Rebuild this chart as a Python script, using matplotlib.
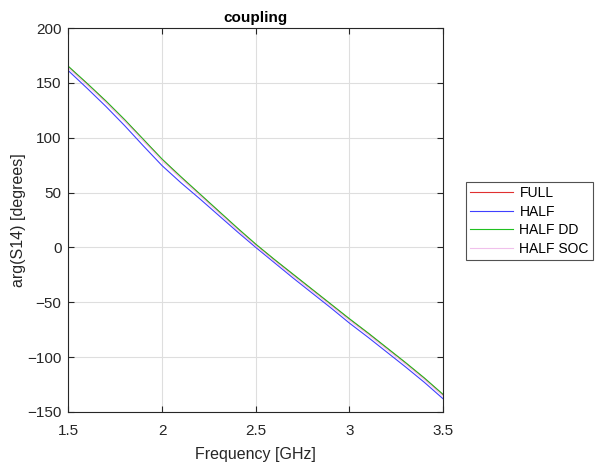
import matplotlib.pyplot as plt

plt.rcParams['font.family'] = ['Liberation Sans', 'DejaVu Sans']

freq = [1.5, 1.6, 1.7, 1.8, 1.9, 2.0, 2.1, 2.2, 2.3, 2.4, 2.5,
        2.6, 2.7, 2.8, 2.9, 3.0, 3.1, 3.2, 3.3, 3.4, 3.5]
full = [164.5, 149, 133, 116, 98, 80, 64, 48.5, 33, 17.5, 2.5,
        -11.5, -25, -38.5, -52, -65.5, -78.5, -92, -105.5, -119.5, -134.5]
half = [161, 145, 128.5, 111, 92.5, 74.5, 59, 44.5, 29.5, 14.5, 0,
        -14, -28, -41.5, -55, -69, -82, -95.5, -109, -123, -138]
half_dd = [165, 149.5, 133.5, 116.5, 98.5, 80.5, 64.5, 49, 33.5, 18, 3,
           -11, -24.5, -38, -51.5, -65, -78, -91.5, -105, -119, -134]
half_soc = [163.5, 148, 132, 115, 97, 79, 63, 47.5, 32, 16.5, 1.5,
            -12.5, -26, -39.5, -53, -66.5, -79.5, -93, -106.5, -120.5, -135.5]

fig = plt.figure(figsize=(5.98, 4.67), dpi=100)
ax = fig.add_axes([0.1145, 0.1178, 0.6265, 0.8222])

ax.plot(freq, full, color='#e03030', lw=0.8, label='FULL')
ax.plot(freq, half, color='#4040ff', lw=0.8, label='HALF')
ax.plot(freq, half_dd, color='#20c020', lw=0.8, label='HALF DD')
ax.plot(freq, half_soc, color='#f0c0ec', lw=0.8, label='HALF SOC')

ax.set_xlim(1.5, 3.5)
ax.set_ylim(-150, 200)
ax.set_xticks([1.5, 2, 2.5, 3, 3.5])
ax.set_xticklabels(['1.5', '2', '2.5', '3', '3.5'])
ax.set_yticks(range(-150, 201, 50))

ax.grid(True, color='#dedede', lw=0.8)
ax.tick_params(direction='in', top=True, right=True, labelsize=11,
               colors='#262626', length=4)
ax.tick_params(axis='x', pad=9)
ax.tick_params(axis='y', pad=5)
for s in ax.spines.values():
    s.set_color('#262626')
    s.set_linewidth(0.8)

ax.set_xlabel('Frequency [GHz]', fontsize=11.5, color='#262626', labelpad=6)
ax.set_ylabel('arg(S14) [degrees]', fontsize=11.5, color='#262626', labelpad=1)
ax.set_title('coupling', fontsize=11, fontweight='bold', pad=4)

leg = fig.legend(loc='upper left', bbox_to_anchor=(0.7793, 0.6103),
                 borderaxespad=0, fontsize=10, fancybox=False,
                 edgecolor='#262626', handlelength=3.1, borderpad=0.3,
                 labelspacing=0.33, handletextpad=0.45)
leg.get_frame().set_linewidth(0.8)

fig.savefig('out.png', dpi=100)
